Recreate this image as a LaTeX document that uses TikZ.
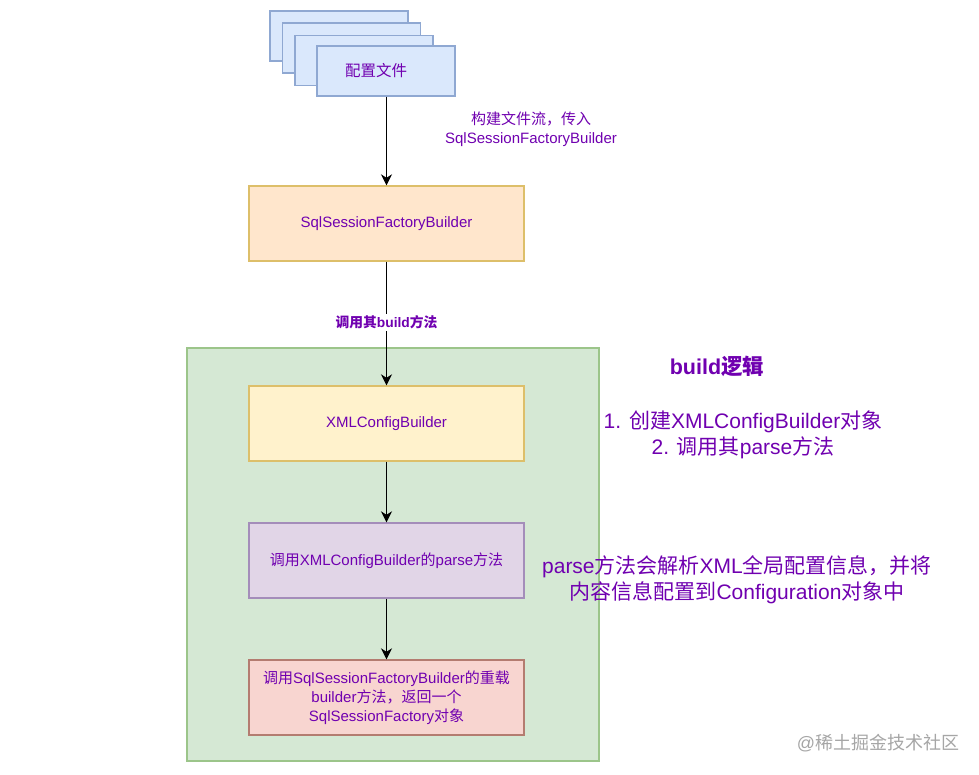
\documentclass[tikz,border=0pt]{standalone}
\usepackage{fontspec}
\setmainfont{Liberation Sans}
\newfontfamily\cjk{Noto Sans CJK SC}
\usetikzlibrary{arrows.meta}
\newcommand\zh[1]{{\cjk #1}}
\definecolor{txt}{HTML}{7000B0}
\definecolor{fileFill}{HTML}{DAE8FC}\definecolor{fileLine}{HTML}{8FA8D2}
\definecolor{orFill}{HTML}{FFE6CC}\definecolor{orLine}{HTML}{DDBF6A}
\definecolor{yeFill}{HTML}{FFF2CC}\definecolor{yeLine}{HTML}{DDBF6A}
\definecolor{puFill}{HTML}{E1D5E7}\definecolor{puLine}{HTML}{A48DBA}
\definecolor{reFill}{HTML}{F8D5D0}\definecolor{reLine}{HTML}{B47C70}
\definecolor{grFill}{HTML}{D5E8D4}\definecolor{grLine}{HTML}{9CC58A}
\begin{document}
\begin{tikzpicture}[x=1pt,y=-1pt,
  filebox/.style={draw=fileLine, fill=fileFill, line width=1.4pt, minimum width=138pt, minimum height=50pt, text=txt, font=\fontsize{15.5}{18}\selectfont},
  box/.style={draw, line width=1.4pt, minimum width=275pt, minimum height=75pt, align=center, text=txt, font=\fontsize{15}{19}\selectfont, inner xsep=2pt, inner ysep=0pt},
  arr/.style={-{Stealth[length=11pt,width=11pt,inset=3.5pt]}, line width=1pt},
  note/.style={text=txt, align=center, font=\fontsize{21}{26}\selectfont}]
\useasboundingbox (0,0) rectangle (979,774);
\fill[white] (0,0) rectangle (979,774);

% green container
\node[draw=grLine, fill=grFill, line width=1.4pt, minimum width=412pt, minimum height=413pt] (grp) at (393,554.5) {};

% stacked files
\node[filebox] (f1) at (339,36) {};
\node[filebox] (f2) at (351.5,48) {};
\node[filebox] (f3) at (364,60.5) {};
\node[filebox] (f4) at (386,71) {\zh{配置文件}\hspace*{20pt}};

\node[box, draw=orLine, fill=orFill] (sfb) at (386.5,223.5) {SqlSessionFactoryBuilder};
\node[box, draw=yeLine, fill=yeFill] (xcb) at (386.5,423.5) {XMLConfigBuilder};
\node[box, draw=puLine, fill=puFill] (parse) at (386.5,560.5) {\zh{调用}XMLConfigBuilder\zh{的}parse\zh{方法}};
\node[box, draw=reLine, fill=reFill] (ret) at (386.5,697.5) {\zh{调用}SqlSessionFactoryBuilder\zh{的重载}\\builder\zh{方法，返回一个}\\SqlSessionFactory\zh{对象}};
\draw[reLine, line width=1.4pt] (ret.north west) rectangle (ret.south east);

\draw[arr] (f4.south -| sfb.north) -- (sfb.north);
\draw[arr] (sfb.south) -- node[fill=white, text=txt, font=\bfseries\fontsize{13.8}{16}\selectfont, inner sep=2pt, pos=0.49] (lb2) {\zh{调用其}build\zh{方法}} (xcb.north);
\draw[arr] (xcb.south) -- (parse.north);
\draw[arr] (parse.south) -- (ret.north);

\node[text=txt, align=center, font=\fontsize{15}{19}\selectfont] (lb1) at (531,129.5) {\zh{构建文件流，传入}\\SqlSessionFactoryBuilder};

\node[note, font=\bfseries\fontsize{21.5}{24}\selectfont] (title) at (717,366) {build\zh{逻辑}};
\node[note] (steps) at (743,435) {1. \zh{创建}XMLConfigBuilder\zh{对象}\\2. \zh{调用其}parse\zh{方法}};
\node[note, font=\fontsize{21}{26}\selectfont] (desc) at (737,580) {parse\zh{方法会解析}XML\zh{全局配置信息，并将}\\\zh{内容信息配置到}Configuration\zh{对象中}};

\node[text=gray!70, font=\fontsize{18}{20}\selectfont] (wm) at (878,743) {@\zh{稀土掘金技术社区}};
\end{tikzpicture}
\end{document}
